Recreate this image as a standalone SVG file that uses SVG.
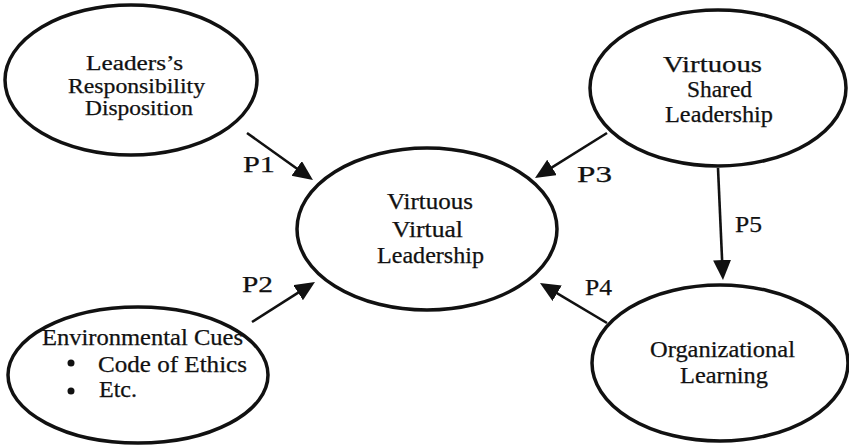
<svg xmlns="http://www.w3.org/2000/svg" width="849" height="445" viewBox="0 0 849 445">
<style>
.node{fill:#fff;stroke:#111;stroke-width:3.5}
.t{font-family:"Liberation Serif","Times New Roman",serif;font-size:23px;fill:#111;stroke:#111;stroke-width:0.25}
.s{font-size:20px}
.lbl{font-family:"Liberation Serif","Times New Roman",serif;font-size:23px;fill:#111;stroke:#111;stroke-width:0.25}
.conn{stroke:#111;stroke-width:2.6;fill:none}
</style>
<defs>
<marker id="ah" markerUnits="userSpaceOnUse" markerWidth="22" markerHeight="20" refX="16" refY="9" orient="auto">
<path d="M0,0 L20,9 L0,18 Z" fill="#111"/>
</marker>
</defs>
<rect width="849" height="445" fill="#fff"/>
<g id="connectors">
<line class="conn" x1="247" y1="133" x2="309.7" y2="177.7" marker-end="url(#ah)"/>
<line class="conn" x1="252" y1="322" x2="311.6" y2="284.1" marker-end="url(#ah)"/>
<line class="conn" x1="607" y1="133" x2="538.4" y2="175.9" marker-end="url(#ah)"/>
<line class="conn" x1="607" y1="323" x2="543.4" y2="285.1" marker-end="url(#ah)"/>
<line class="conn" x1="718" y1="168" x2="722.8" y2="276" marker-end="url(#ah)"/>
<text class="lbl" x="243" y="172" textLength="32" lengthAdjust="spacingAndGlyphs">P1</text>
<text class="lbl" x="242" y="292" textLength="31" lengthAdjust="spacingAndGlyphs">P2</text>
<text class="lbl" x="577" y="182" textLength="35" lengthAdjust="spacingAndGlyphs">P3</text>
<text class="lbl" x="585" y="295" textLength="27" lengthAdjust="spacingAndGlyphs">P4</text>
<text class="lbl" x="735" y="232" textLength="27" lengthAdjust="spacingAndGlyphs">P5</text>
</g>
<g id="node-responsibility">
<ellipse class="node" cx="131" cy="80" rx="126" ry="75"/>
<text class="t s" x="86" y="70" textLength="97" lengthAdjust="spacingAndGlyphs">Leaders’s</text>
<text class="t s" x="68" y="93" textLength="137" lengthAdjust="spacingAndGlyphs">Responsibility</text>
<text class="t s" x="85" y="115" textLength="108" lengthAdjust="spacingAndGlyphs">Disposition</text>
</g>
<g id="node-virtuous-virtual">
<ellipse class="node" cx="427" cy="229" rx="130" ry="81"/>
<text class="t" x="387" y="209" textLength="86" lengthAdjust="spacingAndGlyphs">Virtuous</text>
<text class="t" x="392" y="237" textLength="71" lengthAdjust="spacingAndGlyphs">Virtual</text>
<text class="t" x="377" y="263" textLength="107" lengthAdjust="spacingAndGlyphs">Leadership</text>
</g>
<g id="node-shared">
<ellipse class="node" cx="718" cy="88" rx="128" ry="78"/>
<text class="t" x="663" y="72" textLength="99" lengthAdjust="spacingAndGlyphs">Virtuous</text>
<text class="t" x="687" y="97" textLength="65" lengthAdjust="spacingAndGlyphs">Shared</text>
<text class="t" x="665" y="122" textLength="108" lengthAdjust="spacingAndGlyphs">Leadership</text>
</g>
<g id="node-environmental">
<ellipse class="node" cx="138" cy="375" rx="130" ry="68"/>
<text class="t" x="42" y="345" textLength="201" lengthAdjust="spacingAndGlyphs">Environmental Cues</text>
<circle cx="71" cy="363" r="3.5" fill="#111"/>
<text class="t" x="98" y="372" textLength="149" lengthAdjust="spacingAndGlyphs">Code of Ethics</text>
<circle cx="71" cy="391" r="3.5" fill="#111"/>
<text class="t" x="99" y="397" textLength="38" lengthAdjust="spacingAndGlyphs">Etc.</text>
</g>
<g id="node-learning">
<ellipse class="node" cx="720" cy="363" rx="128" ry="78"/>
<text class="t" x="650" y="357" textLength="145" lengthAdjust="spacingAndGlyphs">Organizational</text>
<text class="t" x="680" y="383" textLength="88" lengthAdjust="spacingAndGlyphs">Learning</text>
</g>
</svg>
